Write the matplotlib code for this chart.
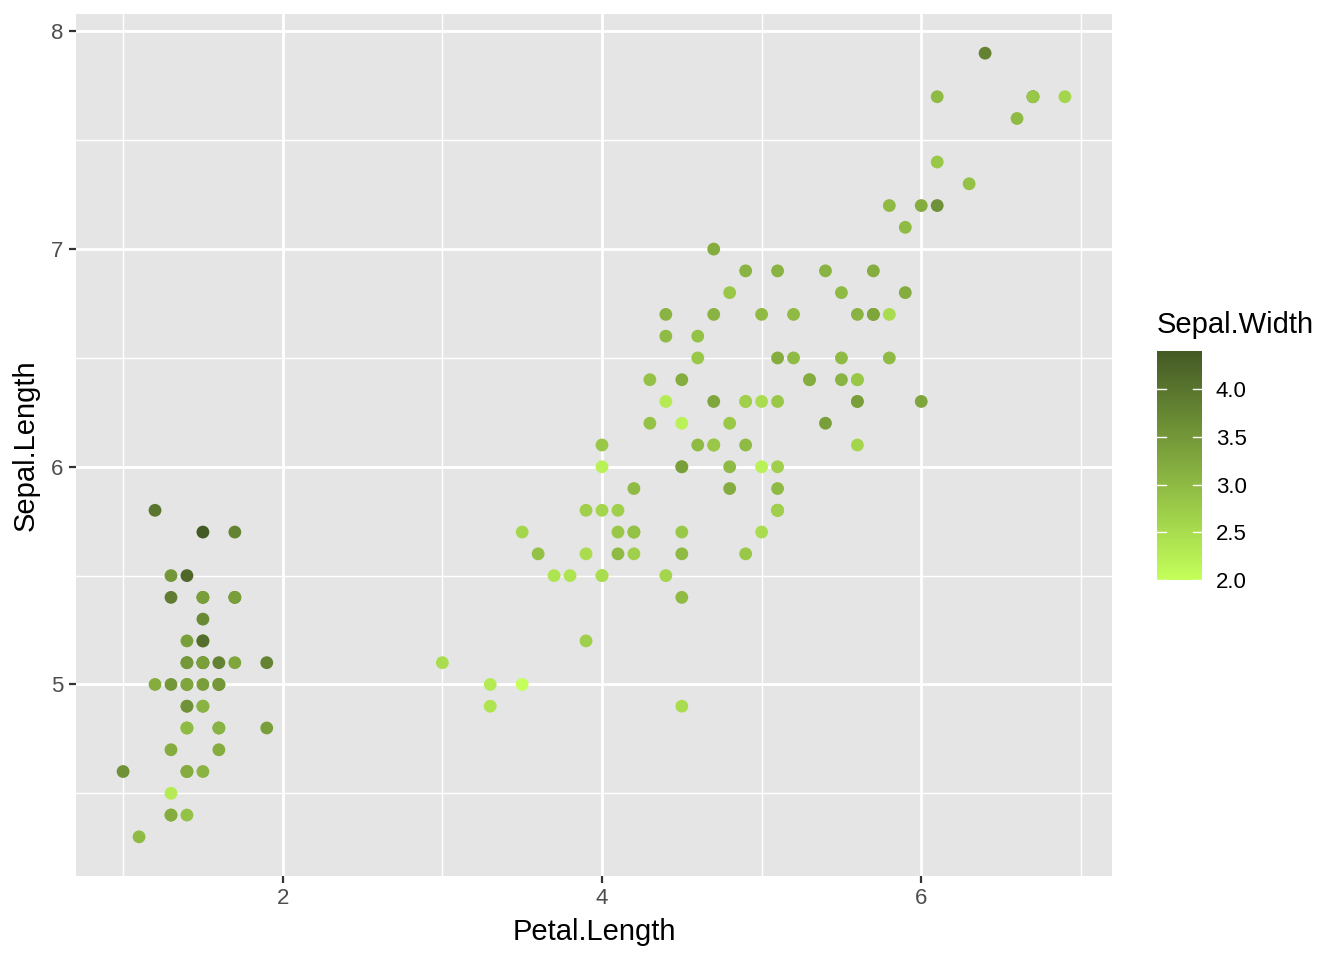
import matplotlib
matplotlib.use('Agg')
import matplotlib.pyplot as plt
from matplotlib.colors import LinearSegmentedColormap, Normalize
from matplotlib.ticker import MultipleLocator
import numpy as np

plt.rcParams['font.family'] = ['Liberation Sans', 'DejaVu Sans']

# iris: Sepal.Length, Sepal.Width, Petal.Length
sepal_length = [5.1, 4.9, 4.7, 4.6, 5.0, 5.4, 4.6, 5.0, 4.4, 4.9,
                5.4, 4.8, 4.8, 4.3, 5.8, 5.7, 5.4, 5.1, 5.7, 5.1,
                5.4, 5.1, 4.6, 5.1, 4.8, 5.0, 5.0, 5.2, 5.2, 4.7,
                4.8, 5.4, 5.2, 5.5, 4.9, 5.0, 5.5, 4.9, 4.4, 5.1,
                5.0, 4.5, 4.4, 5.0, 5.1, 4.8, 5.1, 4.6, 5.3, 5.0,
                7.0, 6.4, 6.9, 5.5, 6.5, 5.7, 6.3, 4.9, 6.6, 5.2,
                5.0, 5.9, 6.0, 6.1, 5.6, 6.7, 5.6, 5.8, 6.2, 5.6,
                5.9, 6.1, 6.3, 6.1, 6.4, 6.6, 6.8, 6.7, 6.0, 5.7,
                5.5, 5.5, 5.8, 6.0, 5.4, 6.0, 6.7, 6.3, 5.6, 5.5,
                5.5, 6.1, 5.8, 5.0, 5.6, 5.7, 5.7, 6.2, 5.1, 5.7,
                6.3, 5.8, 7.1, 6.3, 6.5, 7.6, 4.9, 7.3, 6.7, 7.2,
                6.5, 6.4, 6.8, 5.7, 5.8, 6.4, 6.5, 7.7, 7.7, 6.0,
                6.9, 5.6, 7.7, 6.3, 6.7, 7.2, 6.2, 6.1, 6.4, 7.2,
                7.4, 7.9, 6.4, 6.3, 6.1, 7.7, 6.3, 6.4, 6.0, 6.9,
                6.7, 6.9, 5.8, 6.8, 6.7, 6.7, 6.3, 6.5, 6.2, 5.9]
sepal_width = [3.5, 3.0, 3.2, 3.1, 3.6, 3.9, 3.4, 3.4, 2.9, 3.1,
               3.7, 3.4, 3.0, 3.0, 4.0, 4.4, 3.9, 3.5, 3.8, 3.8,
               3.4, 3.7, 3.6, 3.3, 3.4, 3.0, 3.4, 3.5, 3.4, 3.2,
               3.1, 3.4, 4.1, 4.2, 3.1, 3.2, 3.5, 3.6, 3.0, 3.4,
               3.5, 2.3, 3.2, 3.5, 3.8, 3.0, 3.8, 3.2, 3.7, 3.3,
               3.2, 3.2, 3.1, 2.3, 2.8, 2.8, 3.3, 2.4, 2.9, 2.7,
               2.0, 3.0, 2.2, 2.9, 2.9, 3.1, 3.0, 2.7, 2.2, 2.5,
               3.2, 2.8, 2.5, 2.8, 2.9, 3.0, 2.8, 3.0, 2.9, 2.6,
               2.4, 2.4, 2.7, 2.7, 3.0, 3.4, 3.1, 2.3, 3.0, 2.5,
               2.6, 3.0, 2.6, 2.3, 2.7, 3.0, 2.9, 2.9, 2.5, 2.8,
               3.3, 2.7, 3.0, 2.9, 3.0, 3.0, 2.5, 2.9, 2.5, 3.6,
               3.2, 2.7, 3.0, 2.5, 2.8, 3.2, 3.0, 3.8, 2.6, 2.2,
               3.2, 2.8, 2.8, 2.7, 3.3, 3.2, 2.8, 3.0, 2.8, 3.0,
               2.8, 3.8, 2.8, 2.8, 2.6, 3.0, 3.4, 3.1, 3.0, 3.1,
               3.1, 3.1, 2.7, 3.2, 3.3, 3.0, 2.5, 3.0, 3.4, 3.0]
petal_length = [1.4, 1.4, 1.3, 1.5, 1.4, 1.7, 1.4, 1.5, 1.4, 1.5,
                1.5, 1.6, 1.4, 1.1, 1.2, 1.5, 1.3, 1.4, 1.7, 1.5,
                1.7, 1.5, 1.0, 1.7, 1.9, 1.6, 1.6, 1.5, 1.4, 1.6,
                1.6, 1.5, 1.5, 1.4, 1.5, 1.2, 1.3, 1.4, 1.3, 1.5,
                1.3, 1.3, 1.3, 1.6, 1.9, 1.4, 1.6, 1.4, 1.5, 1.4,
                4.7, 4.5, 4.9, 4.0, 4.6, 4.5, 4.7, 3.3, 4.6, 3.9,
                3.5, 4.2, 4.0, 4.7, 3.6, 4.4, 4.5, 4.1, 4.5, 3.9,
                4.8, 4.0, 4.9, 4.7, 4.3, 4.4, 4.8, 5.0, 4.5, 3.5,
                3.8, 3.7, 3.9, 5.1, 4.5, 4.5, 4.7, 4.4, 4.1, 4.0,
                4.4, 4.6, 4.0, 3.3, 4.2, 4.2, 4.2, 4.3, 3.0, 4.1,
                6.0, 5.1, 5.9, 5.6, 5.8, 6.6, 4.5, 6.3, 5.8, 6.1,
                5.1, 5.3, 5.5, 5.0, 5.1, 5.3, 5.5, 6.7, 6.9, 5.0,
                5.7, 4.9, 6.7, 4.9, 5.7, 6.0, 4.8, 4.9, 5.6, 5.8,
                6.1, 6.4, 5.6, 5.1, 5.6, 6.1, 5.6, 5.5, 4.8, 5.4,
                5.6, 5.1, 5.1, 5.9, 5.7, 5.2, 5.0, 5.2, 5.4, 5.1]

x_ticks = [2, 4, 6]
y_ticks = [5, 6, 7, 8]
cbar_ticks = [2.0, 2.5, 3.0, 3.5, 4.0]

cmap = LinearSegmentedColormap.from_list('greens', ['#c4ff5a', '#445a25'])
norm = Normalize(vmin=min(sepal_width), vmax=max(sepal_width))

fig = plt.figure(figsize=(13.44, 9.6), dpi=100)
ax = fig.add_axes([76/1344, 1 - 876/960, (1112 - 76)/1344, (876 - 14)/960])
ax.set_facecolor('#e5e5e5')

ax.scatter(petal_length, sepal_length, c=sepal_width, cmap=cmap, norm=norm,
           s=85, linewidths=0, zorder=3)

xr = max(petal_length) - min(petal_length)
yr = max(sepal_length) - min(sepal_length)
ax.set_xlim(min(petal_length) - 0.05*xr, max(petal_length) + 0.05*xr)
ax.set_ylim(min(sepal_length) - 0.05*yr, max(sepal_length) + 0.05*yr)

ax.set_xticks(x_ticks)
ax.set_yticks(y_ticks)
ax.xaxis.set_minor_locator(MultipleLocator(1))
ax.yaxis.set_minor_locator(MultipleLocator(0.5))
ax.grid(which='major', color='white', linewidth=2.0, zorder=1)
ax.grid(which='minor', color='white', linewidth=1.0, zorder=1)
ax.set_axisbelow(True)
for s in ax.spines.values():
    s.set_visible(False)
ax.tick_params(which='major', length=5, width=1.6, color='#333333',
               labelsize=16, labelcolor='#4d4d4d', pad=4)
ax.tick_params(which='minor', length=0)

ax.set_xlabel('Petal.Length', fontsize=21, labelpad=6)
ax.set_ylabel('Sepal.Length', fontsize=21, labelpad=8)

# colorbar
cax = fig.add_axes([1157/1344, 1 - 580/960, 45/1344, 229/960])
grad = np.linspace(norm.vmin, norm.vmax, 256).reshape(-1, 1)
cax.imshow(grad, aspect='auto', cmap=cmap, norm=norm, origin='lower',
           extent=[0, 1, norm.vmin, norm.vmax])
cax.set_xlim(0, 1)
cax.set_ylim(norm.vmin, norm.vmax)
cax.set_xticks([])
cax.yaxis.tick_right()
cax.set_yticks(cbar_ticks)
cax.set_yticklabels(['%.1f' % t for t in cbar_ticks])
cax.tick_params(axis='y', length=0, labelsize=16, labelcolor='black', pad=10)
for t in cbar_ticks:
    cax.plot([0, 0.2], [t, t], color='white', linewidth=1)
    cax.plot([0.8, 1], [t, t], color='white', linewidth=1)
for s in cax.spines.values():
    s.set_visible(False)
fig.text(1157/1344, 1 - 325/960, 'Sepal.Width', fontsize=21, ha='left', va='center')

fig.savefig('out.png', dpi=100)
